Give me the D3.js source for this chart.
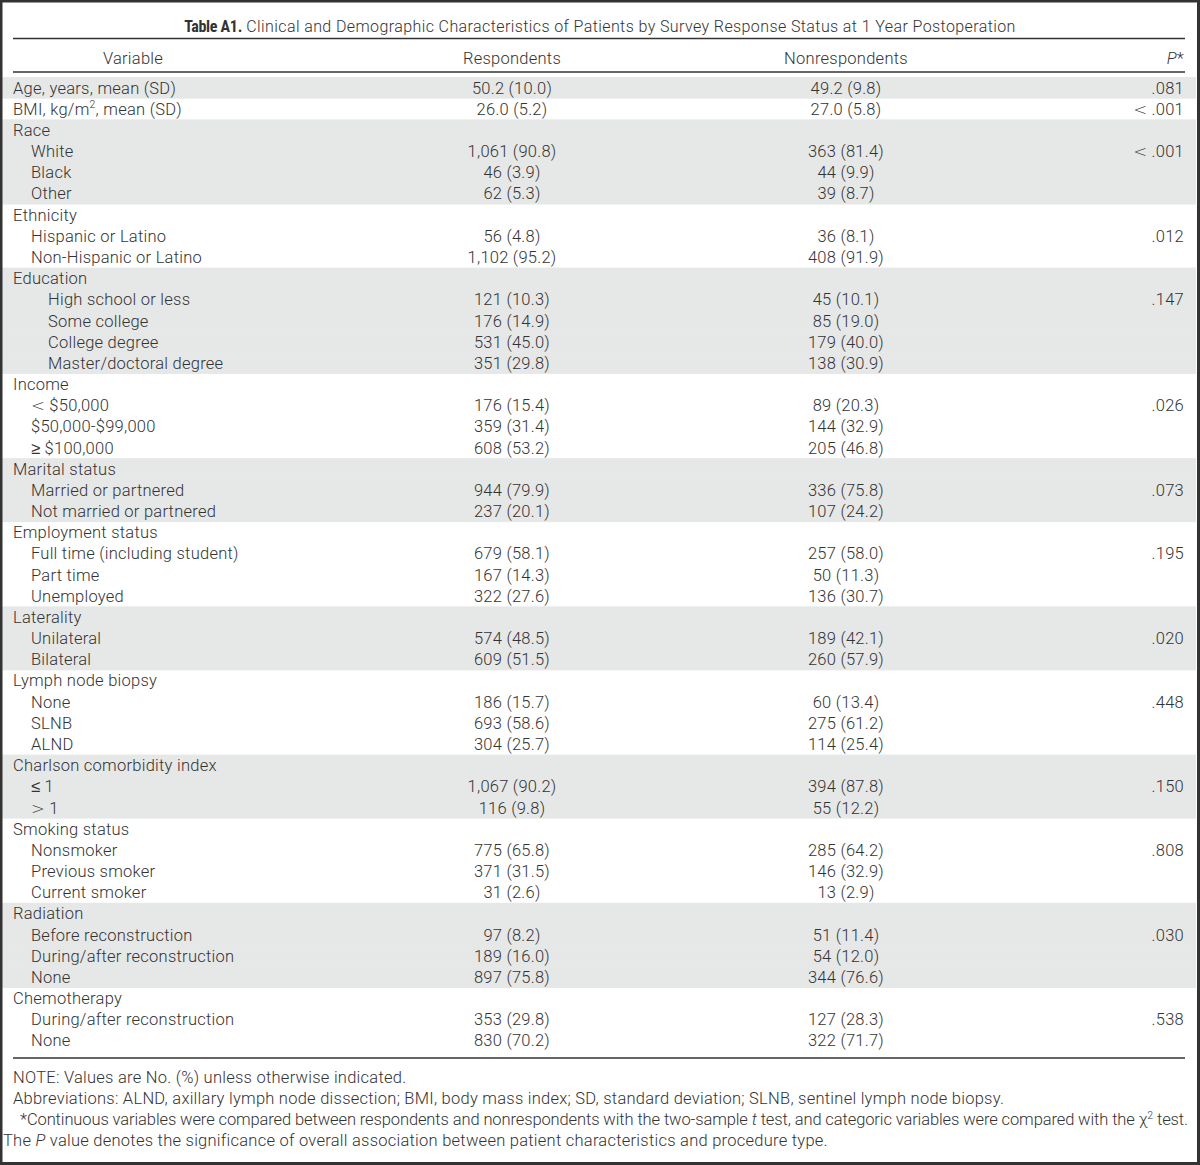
<!DOCTYPE html>
<html>
<head>
<meta charset="utf-8">
<script src="https://cdn.jsdelivr.net/npm/d3@7"></script>
<style>
  body { margin: 0; background: #fff; }
  svg { display: block; }
  text { font-family: Roboto, "Liberation Sans", sans-serif; font-weight: 300; fill: #333; }
  .simbolo { font-family: "DejaVu Sans", sans-serif; font-weight: 200; }
</style>
</head>
<body>
<svg id="tabella"></svg>
<script>
"use strict"
// dati della tabella
const etichette = [
    "Age, years, mean (SD)", "BMI, kg/m^2, mean (SD)",
    "Race", "White", "Black", "Other",
    "Ethnicity", "Hispanic or Latino", "Non-Hispanic or Latino",
    "Education", "High school or less", "Some college", "College degree", "Master/doctoral degree",
    "Income", "< $50,000", "$50,000-$99,000", "\u2265 $100,000",
    "Marital status", "Married or partnered", "Not married or partnered",
    "Employment status", "Full time (including student)", "Part time", "Unemployed",
    "Laterality", "Unilateral", "Bilateral",
    "Lymph node biopsy", "None", "SLNB", "ALND",
    "Charlson comorbidity index", "\u2264 1", "> 1",
    "Smoking status", "Nonsmoker", "Previous smoker", "Current smoker",
    "Radiation", "Before reconstruction", "During/after reconstruction", "None",
    "Chemotherapy", "During/after reconstruction", "None"
];
const livelli = [
    0, 0,
    0, 1, 1, 1,
    0, 1, 1,
    0, 2, 2, 2, 2,
    0, 1, 1, 1,
    0, 1, 1,
    0, 1, 1, 1,
    0, 1, 1,
    0, 1, 1, 1,
    0, 1, 1,
    0, 1, 1, 1,
    0, 1, 1, 1,
    0, 1, 1
];
// gruppo di appartenenza (per la fascia grigia alternata)
const gruppi = [
    0, 1,
    2, 2, 2, 2,
    3, 3, 3,
    4, 4, 4, 4, 4,
    5, 5, 5, 5,
    6, 6, 6,
    7, 7, 7, 7,
    8, 8, 8,
    9, 9, 9, 9,
    10, 10, 10,
    11, 11, 11, 11,
    12, 12, 12, 12,
    13, 13, 13
];
const rispondenti = [
    "50.2 (10.0)", "26.0 (5.2)",
    "", "1,061 (90.8)", "46 (3.9)", "62 (5.3)",
    "", "56 (4.8)", "1,102 (95.2)",
    "", "121 (10.3)", "176 (14.9)", "531 (45.0)", "351 (29.8)",
    "", "176 (15.4)", "359 (31.4)", "608 (53.2)",
    "", "944 (79.9)", "237 (20.1)",
    "", "679 (58.1)", "167 (14.3)", "322 (27.6)",
    "", "574 (48.5)", "609 (51.5)",
    "", "186 (15.7)", "693 (58.6)", "304 (25.7)",
    "", "1,067 (90.2)", "116 (9.8)",
    "", "775 (65.8)", "371 (31.5)", "31 (2.6)",
    "", "97 (8.2)", "189 (16.0)", "897 (75.8)",
    "", "353 (29.8)", "830 (70.2)"
];
const nonRispondenti = [
    "49.2 (9.8)", "27.0 (5.8)",
    "", "363 (81.4)", "44 (9.9)", "39 (8.7)",
    "", "36 (8.1)", "408 (91.9)",
    "", "45 (10.1)", "85 (19.0)", "179 (40.0)", "138 (30.9)",
    "", "89 (20.3)", "144 (32.9)", "205 (46.8)",
    "", "336 (75.8)", "107 (24.2)",
    "", "257 (58.0)", "50 (11.3)", "136 (30.7)",
    "", "189 (42.1)", "260 (57.9)",
    "", "60 (13.4)", "275 (61.2)", "114 (25.4)",
    "", "394 (87.8)", "55 (12.2)",
    "", "285 (64.2)", "146 (32.9)", "13 (2.9)",
    "", "51 (11.4)", "54 (12.0)", "344 (76.6)",
    "", "127 (28.3)", "322 (71.7)"
];
const valoriP = [
    ".081", "< .001",
    "", "< .001", "", "",
    "", ".012", "",
    "", ".147", "", "", "",
    "", ".026", "", "",
    "", ".073", "",
    "", ".195", "", "",
    "", ".020", "",
    "", ".448", "", "",
    "", ".150", "",
    "", ".808", "", "",
    "", ".030", "", "",
    "", ".538", ""
];
const intestazioni = ["Variable", "Respondents", "Nonrespondents", "P*"];
const note = [
    [{ t: "NOTE: Values are No. (%) unless otherwise indicated." }],
    [{ t: "Abbreviations: ALND, axillary lymph node dissection; BMI, body mass index; SD, standard deviation; SLNB, sentinel lymph node biopsy." }],
    [{ t: "*Continuous variables were compared between respondents and nonrespondents with the two-sample " }, { t: "t", i: true },
     { t: " test, and categoric variables were compared with the \u03c7" }, { t: "2", sup: true }, { t: " test." }],
    [{ t: "The " }, { t: "P", i: true }, { t: " value denotes the significance of overall association between patient characteristics and procedure type." }]
];

const grafico = { w: 1200, h: 1165 };
const svg = d3.select("#tabella").attr("width", grafico.w).attr("height", grafico.h);

const righe = etichette.map(function (d, i) { return i; });
const scalaY = d3.scaleBand()
    .domain(righe)
    .range([77, 1051]);
const altezzaRiga = scalaY.bandwidth();
const rientro = [13, 31, 48];
const colonne = { resp: 512, nonresp: 846, p: 1184 };
const fontSize = 16.5;
const spaziatura = 0.25;

// scrive un testo separando i simboli matematici in un tspan a parte
function scriviTesto(t, testo) {
    const pezzi = testo.split(/([<>\u2264\u2265])/);
    pezzi.forEach(function (p) {
        if (p === "") return;
        const s = t.append("tspan").text(p);
        if (/^[<>\u2264\u2265]$/.test(p)) s.attr("class", "simbolo");
    });
}

// fasce grigie
svg.selectAll(".fascia")
    .data(righe.filter(function (i) { return gruppi[i] % 2 === 0; }))
    .enter()
    .append("rect")
    .attr("class", "fascia")
    .attr("x", 2)
    .attr("y", function (i) { return scalaY(i); })
    .attr("width", 1194)
    .attr("height", altezzaRiga + 0.5)
    .attr("fill", "#e6e7e7");

// titolo
const titolo = svg.append("text")
    .attr("x", 600)
    .attr("y", 32)
    .attr("text-anchor", "middle")
    .attr("font-size", 16)
    .attr("letter-spacing", 0.4);
titolo.append("tspan")
    .attr("font-weight", 700)
    .attr("font-stretch", "condensed")
    .attr("letter-spacing", -0.3)
    .text("Table A1.");
titolo.append("tspan").text(" Clinical and Demographic Characteristics of Patients by Survey Response Status at 1 Year Postoperation");

// linee orizzontali
[38.5, 72, 1058].forEach(function (y) {
    svg.append("line")
        .attr("x1", 13).attr("x2", 1185)
        .attr("y1", y).attr("y2", y)
        .attr("stroke", "#333")
        .attr("stroke-width", 1.6);
});

// intestazione
const xIntestazioni = [133, colonne.resp, colonne.nonresp, colonne.p];
svg.selectAll(".intestazione")
    .data(intestazioni)
    .enter()
    .append("text")
    .attr("class", "intestazione")
    .attr("x", function (d, i) { return xIntestazioni[i]; })
    .attr("y", 64)
    .attr("font-size", fontSize)
    .attr("letter-spacing", spaziatura)
    .attr("text-anchor", function (d, i) { return i === 3 ? "end" : "middle"; })
    .each(function (d, i) {
        const t = d3.select(this);
        if (i === 3) {
            t.append("tspan").attr("font-style", "italic").text("P");
            t.append("tspan").text("*");
        } else {
            t.text(d);
        }
    });

const baseY = function (i) { return scalaY(i) + altezzaRiga / 2 + 6; };

// etichette delle variabili
svg.selectAll(".etichetta")
    .data(righe)
    .enter()
    .append("text")
    .attr("class", "etichetta")
    .attr("x", function (i) { return rientro[livelli[i]]; })
    .attr("y", baseY)
    .attr("font-size", fontSize)
    .attr("letter-spacing", spaziatura)
    .each(function (i) {
        const t = d3.select(this);
        const parti = etichette[i].split("^");
        if (parti.length > 1) {
            t.append("tspan").text(parti[0]);
            const resto = parti[1];
            t.append("tspan").attr("font-size", 10.5).attr("dy", -6.5).text(resto.charAt(0));
            t.append("tspan").attr("dy", 6.5).text(resto.slice(1));
        } else {
            scriviTesto(t, etichette[i]);
        }
    });

// colonne dei valori
function colonna(classe, valori, x, anchor) {
    svg.selectAll("." + classe)
        .data(righe.filter(function (i) { return valori[i] !== ""; }))
        .enter()
        .append("text")
        .attr("class", classe)
        .attr("x", x)
        .attr("y", baseY)
        .attr("font-size", fontSize)
        .attr("letter-spacing", spaziatura)
        .attr("text-anchor", anchor)
        .each(function (i) { scriviTesto(d3.select(this), valori[i]); });
}
colonna("resp", rispondenti, colonne.resp, "middle");
colonna("nonresp", nonRispondenti, colonne.nonresp, "middle");
colonna("valp", valoriP, colonne.p, "end");

// note
const xNote = [13, 13, 20, 3];
const lunghezzaNote = [null, null, 1168, null];
svg.selectAll(".nota")
    .data(note)
    .enter()
    .append("text")
    .attr("class", "nota")
    .attr("x", function (d, i) { return xNote[i]; })
    .attr("y", function (d, i) { return 1083 + i * 21; })
    .attr("font-size", fontSize)
    .attr("letter-spacing", spaziatura)
    .each(function (d, i) {
        const t = d3.select(this);
        if (lunghezzaNote[i]) t.attr("letter-spacing", null).attr("textLength", lunghezzaNote[i]).attr("lengthAdjust", "spacing");
        d.forEach(function (p, k) {
            const s = t.append("tspan").text(p.t);
            if (p.i) s.attr("font-style", "italic");
            if (p.sup) s.attr("font-size", 10.5).attr("dy", -6.5);
            if (k > 0 && d[k - 1].sup) s.attr("dy", 6.5);
        });
    });

// cornice
svg.append("rect")
    .attr("x", 1).attr("y", 1)
    .attr("width", grafico.w - 2.5).attr("height", grafico.h - 2.5)
    .attr("fill", "none")
    .attr("stroke", "#333")
    .attr("stroke-width", 3);
</script>
</body>
</html>
